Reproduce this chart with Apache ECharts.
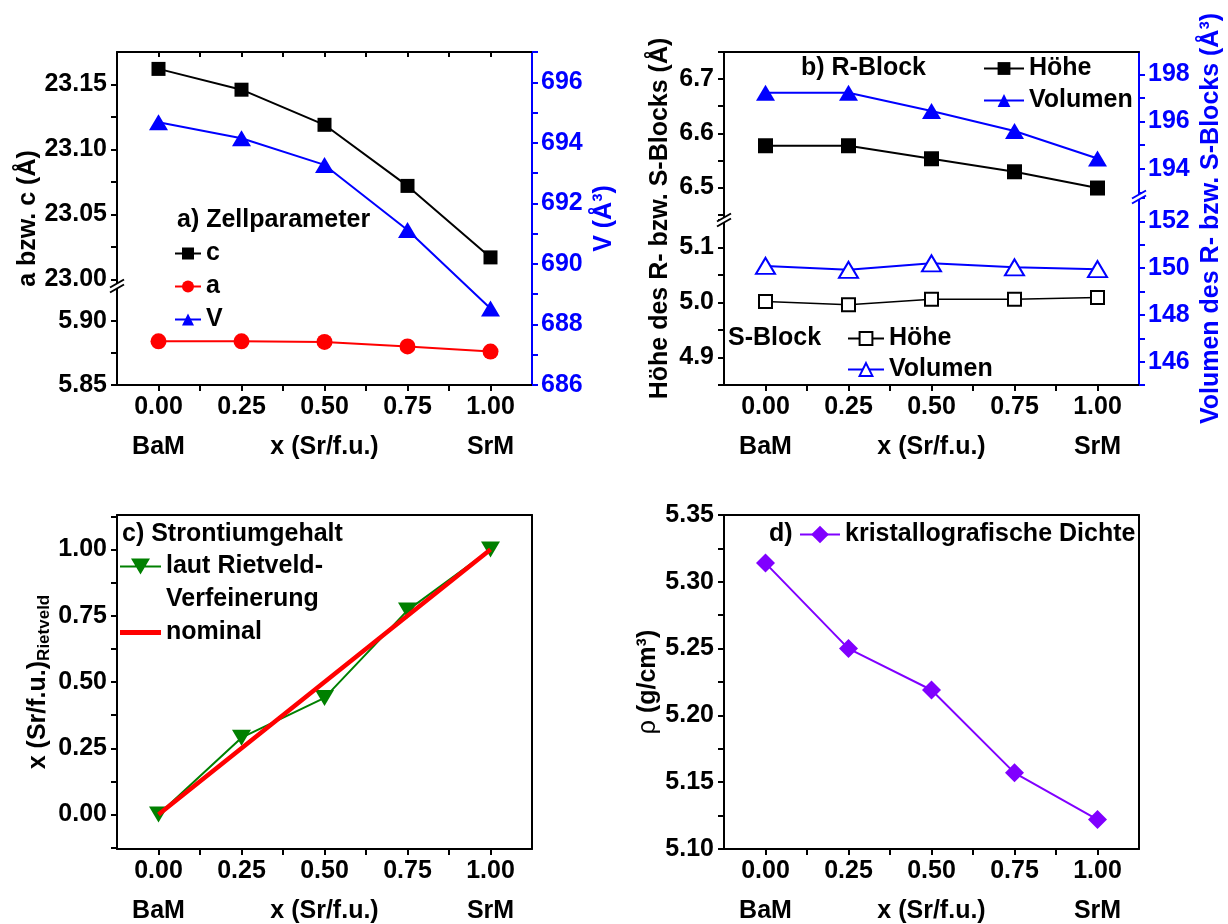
<!DOCTYPE html>
<html><head><meta charset="utf-8">
<script src="https://cdn.jsdelivr.net/npm/echarts@6/dist/echarts.min.js"></script>
<style>html,body{margin:0;padding:0;background:#fff}#c{width:1228px;height:924px}</style>
</head><body><div id="c"></div>
<script>
// ---------------- data ----------------
const xValues = [0, 0.25, 0.5, 0.75, 1.0];
const xTickLabels = ['0.00', '0.25', '0.50', '0.75', '1.00'];
const xSubLabels = ['BaM', '', 'x (Sr/f.u.)', '', 'SrM'];
const xTicks = [0, 0.125, 0.25, 0.375, 0.5, 0.625, 0.75, 0.875, 1];

// a) Zellparameter
const cParam = [23.162, 23.146, 23.119, 23.072, 23.017];
const aParam = [5.884, 5.884, 5.8835, 5.880, 5.876];
const cellVol = [694.68, 694.15, 693.27, 691.12, 688.53];
// b) R-Block / S-Block
const rHeight = [6.577, 6.577, 6.553, 6.529, 6.499];
const rVolume = [197.22, 197.22, 196.45, 195.60, 194.43];
const sHeight = [5.002, 4.996, 5.006, 5.006, 5.009];
const sVolume = [150.10, 149.93, 150.21, 150.04, 149.96];
// c) Strontiumgehalt
const srRietveld = [0, 0.29, 0.44, 0.77, 1.0];
const srNominal = [0, 0.25, 0.5, 0.75, 1.0];
// d) Dichte
const density = [5.314, 5.250, 5.219, 5.157, 5.122];

// tick values / labels
const aUpLabels = [23.00, 23.05, 23.10, 23.15];
const aUpTicks = [23.00, 23.025, 23.05, 23.075, 23.10, 23.125, 23.15];
const aLowLabels = [5.85, 5.90];
const aLowTicks = [5.85, 5.875, 5.90, 5.925];
const vLabels = [686, 688, 690, 692, 694, 696];
const vTicks = [686, 687, 688, 689, 690, 691, 692, 693, 694, 695, 696, 697];
const bLULabels = [6.5, 6.6, 6.7];
const bLUTicks = [6.45, 6.5, 6.55, 6.6, 6.65, 6.7, 6.75];
const bLLLabels = [4.9, 5.0, 5.1];
const bLLTicks = [4.85, 4.9, 4.95, 5.0, 5.05, 5.1, 5.15];
const bRULabels = [194, 196, 198];
const bRUTicks = [193, 194, 195, 196, 197, 198];
const bRLLabels = [146, 148, 150, 152];
const bRLTicks = [145, 146, 147, 148, 149, 150, 151, 152, 153];
const cLabels = [0, 0.25, 0.5, 0.75, 1.0];
const cTicks = [-0.125, 0, 0.125, 0.25, 0.375, 0.5, 0.625, 0.75, 0.875, 1.0, 1.125];
const dLabels = [5.10, 5.15, 5.20, 5.25, 5.30, 5.35];
const dTicks = [5.10, 5.125, 5.15, 5.175, 5.20, 5.225, 5.25, 5.275, 5.30, 5.325, 5.35];

// ---------------- style / layout ----------------
const FONT = 'Arial, "Liberation Sans", sans-serif';
const BLUE = '#0000ff', BLACK = '#000000', RED = '#ff0000', GREEN = '#008000', PURPLE = '#8000ff';
const TXT = { fontSize: 25, fontWeight: 'bold', fontFamily: FONT };

const grids = [
  { left: 117, top: 52, width: 415, height: 234 },  // 0 a upper
  { left: 117, top: 286, width: 415, height: 99 },  // 1 a lower
  { left: 117, top: 52, width: 415, height: 333 },  // 2 a full (V)
  { left: 724, top: 52, width: 415, height: 168 },  // 3 b left upper
  { left: 724, top: 220, width: 415, height: 165 }, // 4 b left lower
  { left: 724, top: 52, width: 415, height: 145 },  // 5 b right upper
  { left: 724, top: 197, width: 415, height: 188 }, // 6 b right lower
  { left: 117, top: 515, width: 415, height: 334 }, // 7 c
  { left: 724, top: 515, width: 415, height: 334 }, // 8 d
  { left: 724, top: 52, width: 415, height: 333 }   // 9 b full (names)
].map(g => Object.assign({ outerBoundsMode: 'none', containLabel: false }, g));

function axLine(color) { return { show: true, onZero: false, lineStyle: { color, width: 2 } }; }
function axTick(color, vals, inside, len) {
  return { show: true, customValues: vals, inside: !!inside, length: len || 6, lineStyle: { color, width: 2 } };
}
function axLabel(color, vals, fmt, margin) {
  return Object.assign({ show: true, customValues: vals, formatter: fmt, color, margin }, TXT);
}
const xFmt = v => {
  const i = xValues.findIndex(t => Math.abs(t - v) < 1e-9);
  if (i < 0) return '';
  return xSubLabels[i] ? xTickLabels[i] + '\n' + xSubLabels[i] : xTickLabels[i];
};
function xAx(grid, kind) {
  const base = { type: 'value', gridIndex: grid, min: -0.125, max: 1.125, splitLine: { show: false } };
  if (kind === 'hidden') return Object.assign(base, { show: false });
  if (kind === 'bottom') return Object.assign(base, {
    position: 'bottom', axisLine: axLine(BLACK), axisTick: axTick(BLACK, xTicks, false, 6),
    axisLabel: Object.assign(axLabel(BLACK, xValues, xFmt, 2), { lineHeight: 40 })
  });
  if (kind === 'topTicks') return Object.assign(base, {
    position: 'top', axisLine: axLine(BLACK), axisTick: axTick(BLACK, xTicks, true, 5), axisLabel: { show: false }
  });
  return Object.assign(base, { position: 'top', axisLine: axLine(BLACK), axisTick: { show: false }, axisLabel: { show: false } });
}
function yAx(grid, pos, min, max, color, ticks, labels, digits, margin) {
  return {
    type: 'value', gridIndex: grid, position: pos, min, max, splitLine: { show: false },
    axisLine: axLine(color), axisTick: axTick(color, ticks, false, 6),
    axisLabel: axLabel(color, labels, v => v.toFixed(digits), margin)
  };
}
function nameOnly(grid, pos, name, color, gap) {
  return {
    type: 'value', gridIndex: grid, position: pos, min: 0, max: 1,
    axisLine: { show: false }, axisTick: { show: false }, axisLabel: { show: false }, splitLine: { show: false },
    name, nameLocation: 'middle', nameGap: gap, nameRotate: 90, nameMoveOverlap: false,
    nameTextStyle: Object.assign({ color }, TXT)
  };
}
function withName(ax, name, color, gap, extra) {
  return Object.assign(ax, {
    name, nameLocation: 'middle', nameGap: gap, nameRotate: 90, nameMoveOverlap: false,
    nameTextStyle: Object.assign({ color }, TXT, extra || {})
  });
}
function lineOnly(grid, pos) {
  return { type: 'value', gridIndex: grid, position: pos, min: 0, max: 1, splitLine: { show: false },
    axisLine: axLine(BLACK), axisTick: { show: false }, axisLabel: { show: false } };
}

const xAxes = [
  xAx(0, 'topTicks'), xAx(1, 'bottom'), xAx(2, 'hidden'),
  xAx(3, 'top'), xAx(4, 'bottom'), xAx(5, 'hidden'), xAx(6, 'hidden'),
  xAx(7, 'bottom'), xAx(7, 'top'), xAx(8, 'bottom'), xAx(8, 'top'), xAx(9, 'hidden')
];

const yAxes = [
  yAx(0, 'left', 22.995, 23.175, BLACK, aUpTicks, aUpLabels, 2, 10),            // 0
  yAx(1, 'left', 5.85, 5.927, BLACK, aLowTicks, aLowLabels, 2, 10),             // 1
  withName(yAx(2, 'right', 686, 697, BLUE, vTicks, vLabels, 0, 9), 'V (Å³)', BLUE, 60), // 2
  yAx(3, 'left', 6.44, 6.75, BLACK, bLUTicks, bLULabels, 1, 10),               // 3
  yAx(4, 'left', 4.85, 5.15, BLACK, bLLTicks, bLLLabels, 1, 10),               // 4
  yAx(5, 'right', 192.8, 198.95, BLUE, bRUTicks, bRULabels, 0, 9),             // 5
  yAx(6, 'right', 145, 153.05, BLUE, bRLTicks, bRLLabels, 0, 9),               // 6
  withName(yAx(7, 'left', -0.13, 1.13, BLACK, cTicks, cLabels, 2, 10),
    '{m|x (Sr/f.u.)}{s|Rietveld}', BLACK, 64,
    { rich: { m: Object.assign({ lineHeight: 30 }, TXT), s: { fontSize: 17, fontWeight: 'bold', fontFamily: FONT, verticalAlign: 'bottom', lineHeight: 30, padding: [10, 0, 0, 0] } } }), // 7
  lineOnly(7, 'right'),                                                         // 8
  withName(yAx(8, 'left', 5.10, 5.35, BLACK, dTicks, dLabels, 2, 10),
    '{g|ρ} {b|(g/cm³)}', BLACK, 63,
    { rich: { g: { fontSize: 25, fontWeight: 'normal', fontFamily: FONT }, b: Object.assign({}, TXT) } }), // 9
  lineOnly(8, 'right'),                                                         // 10
  nameOnly(2, 'left', 'a bzw. c (Å)', BLACK, 76),                              // 11
  nameOnly(9, 'left', 'Höhe des R- bzw. S-Blocks (Å)', BLACK, 51),             // 12
  nameOnly(9, 'right', 'Volumen des R- bzw. S-Blocks (Å³)', BLUE, 60)          // 13
];

function pts(ys) { return xValues.map((x, i) => [x, ys[i]]); }
function ser(name, xi, yi, ys, color, symbol, size, lw, extra) {
  return Object.assign({
    name, type: 'line', xAxisIndex: xi, yAxisIndex: yi, data: pts(ys),
    symbol, symbolSize: size, showSymbol: true, clip: false,
    itemStyle: { color, borderColor: color, borderWidth: symbol.indexOf('empty') === 0 ? 2 : 0 },
    lineStyle: { color, width: lw }, emphasis: { disabled: true }, z: 3
  }, extra || {});
}
const downTri = 'path://M0,0 L20,0 L10,17 Z';
// legend icon for the two-line entry: line + down triangle on the first text line
const rietveldIcon = 'path://M0,0L0.01,0L0,0.01Z M41,66L40.99,66L41,65.99Z M0,15.5L41,15.5L41,17.5L0,17.5Z M11,8.5L30,8.5L20.5,24.5Z';

const series = [
  ser('c', 0, 0, cParam, BLACK, 'rect', 14, 2),
  ser('a', 1, 1, aParam, RED, 'circle', 16, 2),
  ser('V', 2, 2, cellVol, BLUE, 'triangle', [19, 16], 2),
  ser('R-Höhe', 3, 3, rHeight, BLACK, 'rect', 15, 2),
  ser('R-Volumen', 5, 5, rVolume, BLUE, 'triangle', [19, 16], 2),
  ser('S-Höhe', 4, 4, sHeight, BLACK, 'emptyRect', 13, 1.5),
  ser('S-Volumen', 6, 6, sVolume, BLUE, 'emptyTriangle', [19, 16], 2),
  ser('laut Rietveld-\nVerfeinerung', 7, 7, srRietveld, GREEN, downTri, [19, 16], 2),
  ser('nominal', 7, 7, srNominal, RED, 'none', 0, 4.5, { z: 4 }),
  ser('kristallografische Dichte', 9, 9, density, PURPLE, 'diamond', [19, 19], 2)
];

const legendBase = { orient: 'vertical', selectedMode: false, padding: 0,
  textStyle: Object.assign({ color: BLACK, lineHeight: 24 }, TXT) };
const legends = [
  Object.assign({}, legendBase, { data: ['c', 'a', 'V'], left: 174, top: 241, itemWidth: 26, itemHeight: 15, itemGap: 8 }),
  Object.assign({}, legendBase, { data: ['R-Höhe', 'R-Volumen'], left: 983, top: 56, itemWidth: 40, itemHeight: 16, itemGap: 7,
    formatter: n => n.replace(/^[RS]-/, '') }),
  Object.assign({}, legendBase, { data: ['S-Höhe', 'S-Volumen'], left: 847, top: 326, itemWidth: 36, itemHeight: 16, itemGap: 6,
    formatter: n => n.replace(/^[RS]-/, '') }),
  Object.assign({}, legendBase, { data: [{ name: 'laut Rietveld-\nVerfeinerung', icon: rietveldIcon }], left: 120, top: 550,
    itemWidth: 41, itemHeight: 66, textStyle: Object.assign({ color: BLACK, lineHeight: 33 }, TXT) }),
  Object.assign({}, legendBase, { data: [{ name: 'nominal', icon: 'rect' }], left: 120, top: 620, itemWidth: 41, itemHeight: 5 }),
  Object.assign({}, legendBase, { data: ['kristallografische Dichte'], left: 799, top: 522, itemWidth: 40, itemHeight: 22 })
];

function ttl(text, left, top) {
  return { text, left, top, padding: 0, textStyle: Object.assign({ color: BLACK, lineHeight: 24 }, TXT) };
}
const titles = [
  ttl('a) Zellparameter', 177, 208),
  ttl('b) R-Block', 801, 56),
  ttl('S-Block', 728, 326),
  ttl('c) Strontiumgehalt', 122, 522),
  ttl('d)', 769, 522)
];

// axis-break marks where the stacked grids meet
function breakMark(x, y, color) {
  const dx = 7, dy = 4, off = 2.5;
  return [
    { type: 'polygon', z: 100, shape: { points: [[x - dx, y - off + dy], [x + dx, y - off - dy], [x + dx, y + off - dy], [x - dx, y + off + dy]] }, style: { fill: '#fff' } },
    { type: 'line', z: 101, shape: { x1: x - dx, y1: y - off + dy, x2: x + dx, y2: y - off - dy }, style: { stroke: color, lineWidth: 2 } },
    { type: 'line', z: 101, shape: { x1: x - dx, y1: y + off + dy, x2: x + dx, y2: y + off - dy }, style: { stroke: color, lineWidth: 2 } }
  ];
}
const gA = grids[1], gBL = grids[4], gBR = grids[6];
const graphics = [].concat(
  breakMark(gA.left, gA.top, BLACK),
  breakMark(gBL.left, gBL.top, BLACK),
  breakMark(gBR.left + gBR.width, gBR.top, BLUE)
);

const chart = echarts.init(document.getElementById('c'), null, { renderer: 'canvas' });
chart.setOption({
  animation: false,
  backgroundColor: '#ffffff',
  title: titles,
  legend: legends,
  grid: grids,
  xAxis: xAxes,
  yAxis: yAxes,
  series,
  graphic: { elements: graphics }
});
</script></body></html>
